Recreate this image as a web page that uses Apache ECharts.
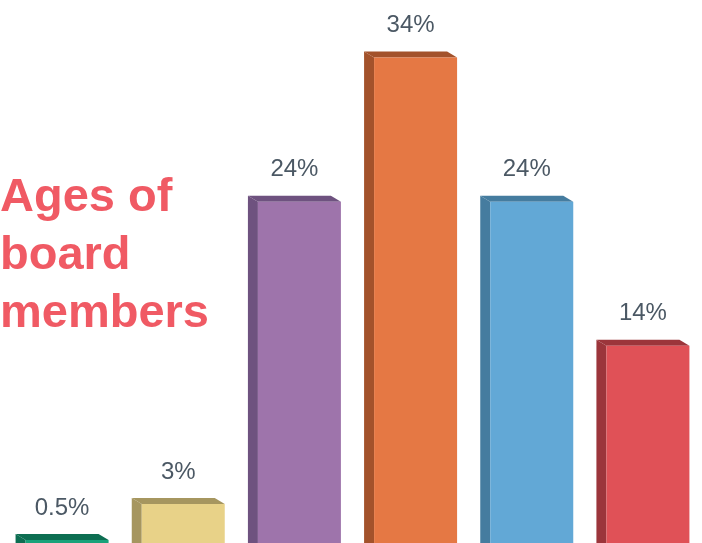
<!DOCTYPE html>
<html>
<head>
<meta charset="utf-8">
<style>
  html, body { margin: 0; padding: 0; background: #fff; }
  #main { width: 702px; height: 543px; }
</style>
<script src="https://cdn.jsdelivr.net/npm/echarts@6/dist/echarts.min.js"></script>
</head>
<body>
<div id="main"></div>
<script>
// 年龄段（原图无标签）
var categories = ['A', 'B', 'C', 'D', 'E', 'F']
var values = [0.5, 3, 24, 34, 24, 14]
var labels = ['0.5%', '3%', '24%', '34%', '24%', '14%']
var frontColors = ['#18a27a', '#e8d288', '#9e74ab', '#e57844', '#62a8d6', '#e05157']
var sideColors = ['#0d6e52', '#a6965f', '#6e527f', '#a3522b', '#457c9f', '#9c353b']

var chart = echarts.init(document.getElementById('main'))

// 立体柱子
function renderBar(params, api) {
	var idx = api.value(0)
	var top = api.coord([idx, api.value(1)])
	var base = api.coord([idx, 0])
	var cx = top[0]
	var dx = 10, dy = 6	// 侧面深度
	var half = 46.5
	var fl = cx - half + dx, fr = cx + half
	var ft = top[1], fb = base[1] + 5
	return {
		type: 'group',
		children: [{
			type: 'polygon',
			shape: { points: [[fl, ft], [fl - dx, ft - dy], [fl - dx, fb], [fl, fb]] },
			style: { fill: sideColors[idx] }
		}, {
			type: 'polygon',
			shape: { points: [[fl, ft], [fr, ft], [fr - dx, ft - dy], [fl - dx, ft - dy]] },
			style: { fill: sideColors[idx] }
		}, {
			type: 'rect',
			shape: { x: fl, y: ft, width: fr - fl, height: fb - ft },
			style: { fill: frontColors[idx] }
		}, {
			type: 'text',
			x: cx,
			y: ft - dy - 14,
			style: {
				text: labels[idx],
				fill: '#4b5864',
				font: '24px "Liberation Sans", Arial, sans-serif',
				align: 'center',
				verticalAlign: 'bottom'
			}
		}]
	}
}

var option = {
	animation: false,
	grid: { left: 4, right: 1, top: 0, bottom: 0 },
	xAxis: {
		type: 'category',
		data: categories,
		show: false
	},
	yAxis: {
		type: 'value',
		min: 0.3,	// 基线在画面下方一点
		max: 38,
		show: false
	},
	graphic: [{
		type: 'text',
		left: 0,
		top: 169,
		z: 10,
		style: {
			text: 'Ages of\nboard\nmembers',
			fill: '#f05a64',
			font: 'bold 47px "Liberation Sans", Arial, sans-serif',
			lineHeight: 58
		}
	}],
	series: [{
		type: 'custom',
		renderItem: renderBar,
		data: values.map(function(v, i) { return [i, v] })
	}]
}

chart.setOption(option)
</script>
</body>
</html>
